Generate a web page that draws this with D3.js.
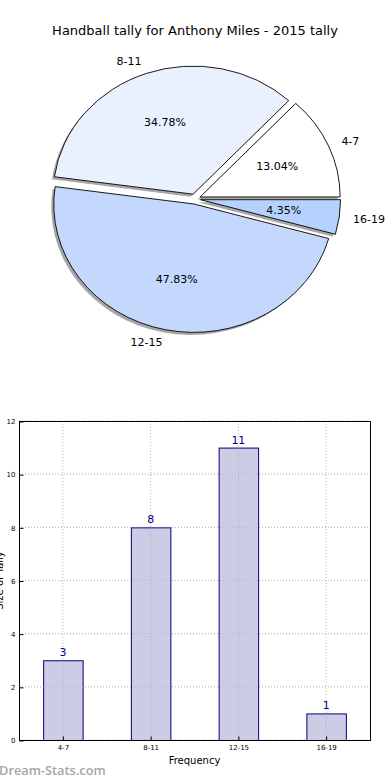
<!DOCTYPE html>
<html><head><meta charset="utf-8">
<script src="https://cdn.jsdelivr.net/npm/d3@7"></script>
<style>body{margin:0;background:#fff;}svg{display:block;font-family:"DejaVu Sans",sans-serif;}</style>
</head><body>
<svg id="c" width="390" height="780"></svg>
<script>
const categories = ["4-7", "8-11", "12-15", "16-19"];
const tallies = [3, 8, 11, 1];
const sliceColors = ["#ffffff", "#eaf1fe", "#c4d8fe", "#b5d2fe"];
const yTicks = [0, 2, 4, 6, 8, 10, 12];
const titleText = "Handball tally for Anthony Miles - 2015 tally";
const xLabel = "Frequency";
const yLabel = "Size of Tally";

const svg = d3.select("#c");

svg.append("text").attr("x", 195).attr("y", 35).attr("text-anchor", "middle")
  .attr("font-size", 13).text(titleText);

// ---- Pie (matplotlib-style, counterclockwise from 3 o'clock, elliptical axes)
const cx = 195, cy = 199, rx = 140, ry = 128, explode = 0.04;
const total = d3.sum(tallies);
const pie = d3.pie().sort(null).value(d => d)
  .startAngle(Math.PI / 2).endAngle(Math.PI / 2 - 2 * Math.PI);
const arcs = pie(tallies);
function mathAngle(a) { return Math.PI / 2 - a; }
const arcGen = d3.arc().innerRadius(0).outerRadius(1);
const pieG = svg.append("g");
const slices = arcs.map((a, i) => {
  const mid = mathAngle((a.startAngle + a.endAngle) / 2);
  const ox = cx + explode * rx * Math.cos(mid);
  const oy = cy - explode * ry * Math.sin(mid);
  return {a, i, mid, ox, oy};
});
slices.forEach(s => {
  pieG.append("path")
    .attr("d", arcGen({startAngle: s.a.startAngle, endAngle: s.a.endAngle}))
    .attr("transform", `translate(${s.ox - 2.5},${s.oy + 2.5}) scale(${rx},${ry})`)
    .attr("fill", "#888").attr("opacity", 0.75);
});
slices.forEach(s => {
  pieG.append("path")
    .attr("d", arcGen({startAngle: s.a.startAngle, endAngle: s.a.endAngle}))
    .attr("transform", `translate(${s.ox},${s.oy}) scale(${rx},${ry})`)
    .attr("fill", sliceColors[s.i]).attr("stroke", "#000")
    .attr("stroke-width", 0.9).attr("vector-effect", "non-scaling-stroke");
});
slices.forEach(s => {
  const c = Math.cos(s.mid), sn = Math.sin(s.mid);
  const lx = s.ox + 1.1 * rx * c, ly = s.oy - 1.1 * ry * sn;
  pieG.append("text").attr("x", lx).attr("y", ly).attr("dy", "0.35em")
    .attr("text-anchor", c >= 0 ? "start" : "end").attr("font-size", 11)
    .text(categories[s.i]);
  const px = s.ox + 0.6 * rx * c, py = s.oy - 0.6 * ry * sn;
  pieG.append("text").attr("x", px).attr("y", py).attr("dy", "0.35em")
    .attr("text-anchor", "middle").attr("font-size", 11)
    .text((100 * tallies[s.i] / total).toFixed(2) + "%");
});

// ---- Bar chart
const L = 19, R = 370, T = 421, B = 740;
const x = d3.scaleBand().domain(categories).range([L, R]).paddingInner(0.55).paddingOuter(0.275);
const y = d3.scaleLinear().domain([0, 12]).range([B, T]);
const bg = svg.append("g");

bg.selectAll(".gy").data(yTicks).join("line")
  .attr("x1", L).attr("x2", R).attr("y1", d => y(d)).attr("y2", d => y(d))
  .attr("stroke", "#bbb").attr("stroke-width", 1).attr("stroke-dasharray", "1,2");
bg.selectAll(".gx").data(categories).join("line")
  .attr("x1", d => x(d) + x.bandwidth() / 2).attr("x2", d => x(d) + x.bandwidth() / 2)
  .attr("y1", T).attr("y2", B)
  .attr("stroke", "#bbb").attr("stroke-width", 1).attr("stroke-dasharray", "1,2");

bg.selectAll(".bar").data(tallies).join("rect")
  .attr("x", (d, i) => x(categories[i]) + 0.5).attr("y", d => y(d) + 0.5)
  .attr("width", x.bandwidth()).attr("height", d => B - y(d))
  .attr("fill", "#ccccE4").attr("stroke", "#000080").attr("stroke-width", 1);
bg.selectAll(".gx2").data(categories).join("line")
  .attr("x1", d => x(d) + x.bandwidth() / 2).attr("x2", d => x(d) + x.bandwidth() / 2)
  .attr("y1", d => y(tallies[categories.indexOf(d)]) + 1).attr("y2", B)
  .attr("stroke", "#aaa").attr("stroke-width", 1).attr("stroke-dasharray", "1,2");
bg.selectAll(".gy2").data(yTicks).join("line")
  .attr("x1", L).attr("x2", R).attr("y1", d => y(d)).attr("y2", d => y(d))
  .attr("stroke", "#aaa").attr("stroke-width", 1).attr("stroke-dasharray", "1,2").attr("opacity", 0.5);

bg.selectAll(".val").data(tallies).join("text")
  .attr("x", (d, i) => x(categories[i]) + x.bandwidth() / 2).attr("y", d => y(d) - 4)
  .attr("text-anchor", "middle").attr("font-size", 11).attr("fill", "#000080").text(d => d);

bg.append("rect").attr("x", L + 0.5).attr("y", T + 0.5).attr("width", R - L).attr("height", B - T)
  .attr("fill", "none").attr("stroke", "#000").attr("stroke-width", 1);

const yAxis = d3.axisLeft(y).tickValues(yTicks).tickSize(-4).tickPadding(4);
const ya = bg.append("g").attr("transform", `translate(${L + 0.5},0.5)`).call(yAxis);
ya.select(".domain").remove();
ya.selectAll("text").attr("font-size", 7).attr("font-family", "DejaVu Sans");
const xAxis = d3.axisBottom(x).tickSize(-4).tickPadding(5);
const xa = bg.append("g").attr("transform", `translate(0.5,${B + 0.5})`).call(xAxis);
xa.select(".domain").remove();
xa.selectAll("text").attr("font-size", 7).attr("font-family", "DejaVu Sans");

svg.append("text").attr("x", (L + R) / 2).attr("y", 764).attr("text-anchor", "middle")
  .attr("font-size", 10).text(xLabel);
svg.append("text").attr("transform", `translate(3,${(T + B) / 2}) rotate(-90)`)
  .attr("text-anchor", "middle").attr("font-size", 10).text(yLabel);

svg.append("text").attr("x", -1).attr("y", 775).attr("font-size", 12.8)
  .attr("font-family", "'Open Sans', sans-serif").attr("font-weight", 600)
  .attr("fill", "#a6a6a6").text("Dream-Stats.com");
</script>
</body></html>
